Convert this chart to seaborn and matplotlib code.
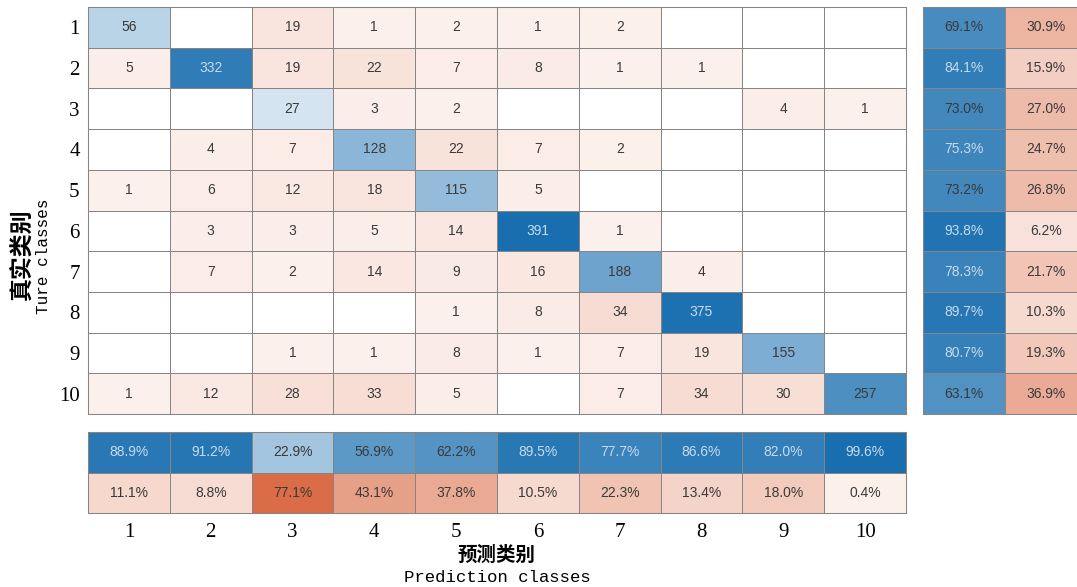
import numpy as np
import matplotlib.pyplot as plt
import seaborn as sns
from matplotlib.colors import LinearSegmentedColormap, ListedColormap, PowerNorm

# 类别标签
classes = ["1", "2", "3", "4", "5", "6", "7", "8", "9", "10"]

# 混淆矩阵（行：真实类别，列：预测类别）
confusion = np.array([
    [56, 0, 19, 1, 2, 1, 2, 0, 0, 0],
    [5, 332, 19, 22, 7, 8, 1, 1, 0, 0],
    [0, 0, 27, 3, 2, 0, 0, 0, 4, 1],
    [0, 4, 7, 128, 22, 7, 2, 0, 0, 0],
    [1, 6, 12, 18, 115, 5, 0, 0, 0, 0],
    [0, 3, 3, 5, 14, 391, 1, 0, 0, 0],
    [0, 7, 2, 14, 9, 16, 188, 4, 0, 0],
    [0, 0, 0, 0, 1, 8, 34, 375, 0, 0],
    [0, 0, 1, 1, 8, 1, 7, 19, 155, 0],
    [1, 12, 28, 33, 5, 0, 7, 34, 30, 257],
])

# 右侧：各真实类别的正确率 / 错误率 (%)
row_correct = [69.1, 84.1, 73.0, 75.3, 73.2, 93.8, 78.3, 89.7, 80.7, 63.1]
row_wrong = [30.9, 15.9, 27.0, 24.7, 26.8, 6.2, 21.7, 10.3, 19.3, 36.9]

# 底部：各预测类别的精确率 / 错误率 (%)
col_correct = [88.9, 91.2, 22.9, 56.9, 62.2, 89.5, 77.7, 86.6, 82.0, 99.6]
col_wrong = [11.1, 8.8, 77.1, 43.1, 37.8, 10.5, 22.3, 13.4, 18.0, 0.4]

BLUE = "#196eaf"
RED = "#d24b1e"
GRID = "#858585"
TXT_DARK = "#3a3a3a"
TXT_LIGHT = "#c6dbee"
LW = 0.55

blue_cmap = LinearSegmentedColormap.from_list("blue", ["white", BLUE])
red_cmap = LinearSegmentedColormap.from_list("red", ["#fcf1ed", RED])
white_cmap = ListedColormap(["white"])

W, H = 1077, 587
fig = plt.figure(figsize=(W / 100, H / 100), dpi=100)


def px_axes(x0, y0, x1, y1):
    return fig.add_axes([x0 / W, 1 - y1 / H, (x1 - x0) / W, (y1 - y0) / H])


def base_grid(ax, shape):
    sns.heatmap(np.zeros(shape), cmap=white_cmap, cbar=False, linewidths=LW,
                linecolor=GRID, xticklabels=False, yticklabels=False, ax=ax)


def draw_cells(ax, values, mask, cmap, vmax, gamma, annot, light):
    n0 = len(ax.texts)
    sns.heatmap(values, mask=mask, cmap=cmap, norm=PowerNorm(gamma, vmin=0, vmax=vmax),
                annot=annot, fmt="", cbar=False, linewidths=LW, linecolor=GRID,
                xticklabels=False, yticklabels=False, ax=ax,
                annot_kws={"fontsize": 10, "fontfamily": "Liberation Sans"})
    flags = np.asarray(light)[~mask]
    for t, f in zip(ax.texts[n0:], flags):
        t.set_color(TXT_LIGHT if f else TXT_DARK)


def frame(ax, nrows):
    ax.set_ylim(nrows, 0)
    for s in ax.spines.values():
        s.set_visible(True)
        s.set_color(GRID)
        s.set_linewidth(LW + 0.2)
    ax.tick_params(length=0)


tick_font = {"fontfamily": "Liberation Serif", "fontsize": 15}

# 主矩阵
ax = px_axes(88, 7, 906, 414)
n = len(classes)
diag = np.eye(n, dtype=bool)
labels = confusion.astype(str)
base_grid(ax, confusion.shape)
draw_cells(ax, confusion, ~diag, blue_cmap, confusion.max(), 0.62, labels, confusion > 300)
draw_cells(ax, confusion, diag | (confusion == 0), red_cmap, confusion.max(), 0.85, labels,
           np.zeros_like(diag))
frame(ax, n)
ax.set_xticks([])
ax.set_yticks(np.arange(n) + 0.5)
ax.set_yticklabels(classes, rotation=0, **tick_font)
ax.tick_params(axis="y", pad=6)

# 右侧汇总
ax_r = px_axes(923, 7, 1087, 414)
row_vals = np.column_stack([row_correct, row_wrong])
row_txt = np.array([[f"{a:.1f}%", f"{b:.1f}%"] for a, b in row_vals])
col0 = np.zeros(row_vals.shape, dtype=bool)
col0[:, 0] = True
base_grid(ax_r, row_vals.shape)
draw_cells(ax_r, row_vals, ~col0, blue_cmap, 100, 0.62, row_txt, row_vals > 74)
draw_cells(ax_r, row_vals, col0, red_cmap, 100, 0.85, row_txt, np.zeros_like(col0))
frame(ax_r, n)
ax_r.set_xticks([])
ax_r.set_yticks([])

# 底部汇总
ax_b = px_axes(88, 432, 906, 513)
col_vals = np.vstack([col_correct, col_wrong])
col_txt = np.array([[f"{v:.1f}%" for v in r] for r in col_vals])
row0 = np.zeros(col_vals.shape, dtype=bool)
row0[0, :] = True
base_grid(ax_b, col_vals.shape)
draw_cells(ax_b, col_vals, ~row0, blue_cmap, 100, 0.62, col_txt, col_vals > 74)
draw_cells(ax_b, col_vals, row0, red_cmap, 100, 0.85, col_txt, np.zeros_like(row0))
frame(ax_b, 2)
ax_b.set_yticks([])
ax_b.set_xticks(np.arange(n) + 0.5)
ax_b.set_xticklabels(classes, rotation=0, **tick_font)
ax_b.tick_params(axis="x", pad=7)

# 坐标轴标题
cjk = ["Noto Sans CJK SC", "DejaVu Sans"]
mono = ["Liberation Mono", "DejaVu Sans Mono"]
fig.text(22 / W, 1 - 254 / H, "真实类别", rotation=90, ha="center", va="center",
         family=cjk, fontsize=16.5, fontweight="bold")
fig.text(44 / W, 1 - 256 / H, "Ture classes", rotation=90, ha="center", va="center",
         family=mono, fontsize=11.5)
fig.text(497 / W, 1 - 555 / H, "预测类别", ha="center", va="center",
         family=cjk, fontsize=14, fontweight="bold")
fig.text(497 / W, 1 - 578 / H, "Prediction classes", ha="center", va="center",
         family=mono, fontsize=12.5)

fig.savefig("out.png", dpi=100)
